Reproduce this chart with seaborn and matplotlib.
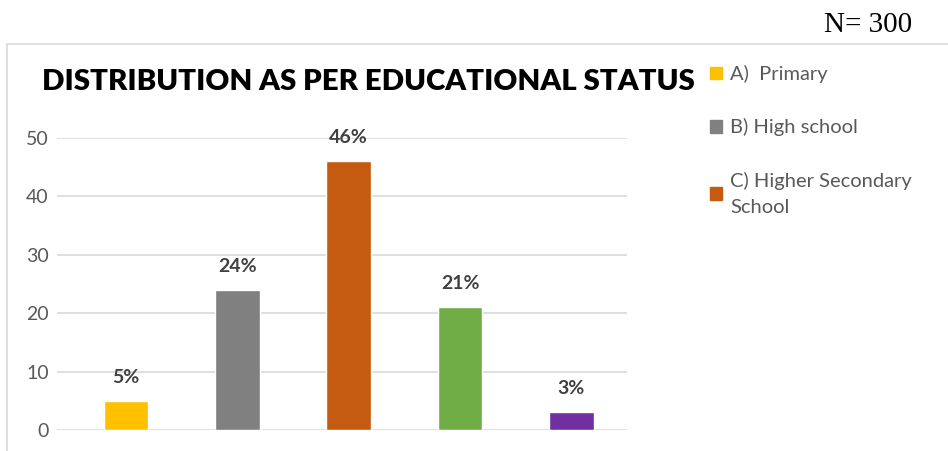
import matplotlib
matplotlib.use("Agg")
import matplotlib.pyplot as plt
import matplotlib.patches as mpatches
import seaborn as sns
import pandas as pd

categories = ["A)  Primary", "B) High school", "C) Higher Secondary\nSchool", "D) Graduate", "E) Post Graduate"]
values = [5, 24, 46, 21, 3]
labels = ["5%", "24%", "46%", "21%", "3%"]
colors = ["#FFC000", "#808080", "#C55A11", "#70AD47", "#7030A0"]
yticks = [0, 10, 20, 30, 40, 50]

sns.set_theme(style="white")
plt.rcParams["font.family"] = ["Lato", "DejaVu Sans"]

fig = plt.figure(figsize=(9.48, 4.51), dpi=100)
ax = fig.add_axes([57/948, 21/451, 570/948, 292/451])

df = pd.DataFrame({"cat": categories, "val": values})
sns.barplot(data=df, x="cat", y="val", hue="cat", palette=colors, width=0.4,
            legend=False, ax=ax, saturation=1)

ax.set_ylim(0, 50)
ax.set_xlim(-0.62, 4.5)
ax.set_yticks(yticks)
ax.set_yticklabels([str(t) for t in yticks], color="#595959", fontsize=14)
ax.set_xticks([])
ax.set_xlabel("")
ax.set_ylabel("")
ax.tick_params(axis="y", length=0, pad=6)
ax.yaxis.grid(True, color="#d9d9d9", linewidth=1.2)
ax.set_axisbelow(True)
for s in ax.spines.values():
    s.set_visible(False)

for i, (v, lab) in enumerate(zip(values, labels)):
    ax.text(i, v + 2.6, lab, ha="center", va="bottom", fontsize=14,
            fontweight="bold", color="#404040", clip_on=False)

fig.text(42/948, 1 - 82/451, "DISTRIBUTION AS PER EDUCATIONAL STATUS", ha="left", va="center",
         fontsize=21.2, fontweight="heavy", color="black")
fig.text(912/948, 1 - 25/451, "N= 300", ha="right", va="center", fontsize=21,
         family=["Liberation Serif"], color="black")

border = mpatches.Rectangle((7/948, -0.05), 1.0, 1 - 44/451 + 0.05, transform=fig.transFigure,
                            fill=False, edgecolor="#d9d9d9", linewidth=1.2)
fig.add_artist(border)

handles = [mpatches.Patch(color=colors[i], label=categories[i]) for i in range(3)]
leg = fig.legend(handles=handles, loc="upper left", bbox_to_anchor=(702/948, 1 - 57/451),
                 frameon=False, fontsize=14.5, labelspacing=1.75, handlelength=0.6,
                 handleheight=0.6, handletextpad=0.4, borderaxespad=0)
for t in leg.get_texts():
    t.set_color("#595959")
    t.set_linespacing(1.65)

fig.savefig("out.png", dpi=100)
